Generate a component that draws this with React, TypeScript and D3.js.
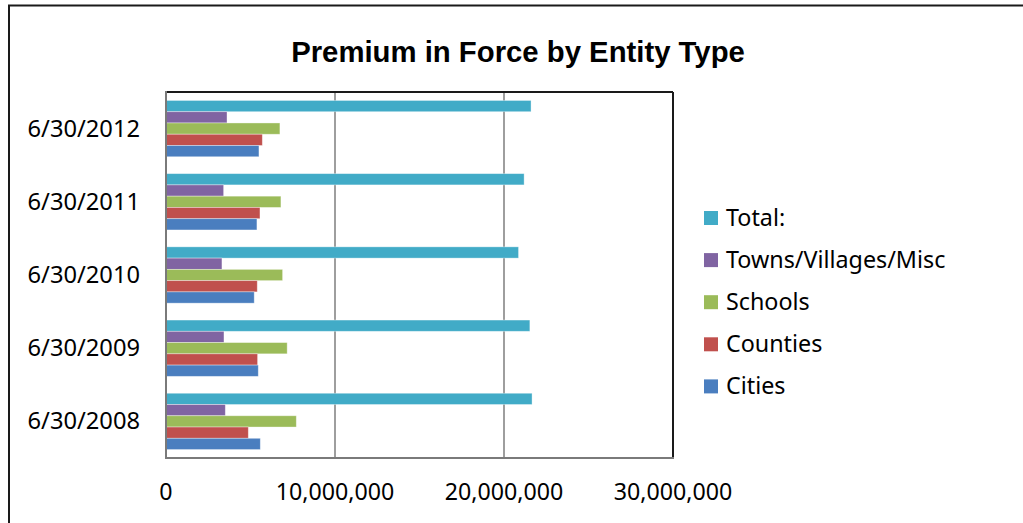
import React from "react";
import * as d3 from "d3";

// Premium in force (USD) by entity type, fiscal years ending June 30
const categories = ["6/30/2008", "6/30/2009", "6/30/2010", "6/30/2011", "6/30/2012"];
const cities = [5580000, 5460000, 5220000, 5380000, 5500000];
const counties = [4870000, 5420000, 5400000, 5560000, 5700000];
const schools = [7710000, 7170000, 6900000, 6800000, 6740000];
const towns = [3510000, 3430000, 3310000, 3410000, 3610000];
const totals = [21660000, 21530000, 20860000, 21190000, 21600000];

const xTicks = [0, 10000000, 20000000, 30000000];

const seriesNames = ["Total:", "Towns/Villages/Misc", "Schools", "Counties", "Cities"];
const seriesValues = [totals, towns, schools, counties, cities];
const seriesColors = ["#41ABC7", "#8064A2", "#9BBB59", "#C0504D", "#4A7EBF"];

const W = 1023;
const H = 523;
const plot = { left: 166, right: 673, top: 92, bottom: 458 };
const labelFont = "'Noto Sans', 'Open Sans', sans-serif";

export default function App() {
  const x = d3.scaleLinear().domain([0, 30000000]).range([plot.left, plot.right]);
  // first category at the bottom, as in a horizontal bar chart
  const y = d3
    .scaleBand<string>()
    .domain([...categories].reverse())
    .range([plot.top, plot.bottom])
    .paddingInner(0)
    .paddingOuter(0);
  const inner = d3
    .scaleBand<string>()
    .domain(seriesNames)
    .range([0, y.bandwidth()])
    .paddingInner(0)
    .paddingOuter(0.75);
  const fmt = d3.format(",");

  return (
    <svg
      width={W}
      height={H}
      style={{ position: "absolute", left: 0, top: 0, background: "#fff" }}
    >
      <rect x={0} y={0} width={W} height={H} fill="#fff" />
      {/* chart frame */}
      <rect x={9} y={5.5} width={W + 20} height={H + 20} fill="none" stroke="#1a1a1a" strokeWidth={2} />

      <text
        x={518}
        y={62}
        textAnchor="middle"
        fontFamily="'Liberation Sans', Arial, sans-serif"
        fontWeight="bold"
        fontSize={29.3}
        fill="#000"
      >
        Premium in Force by Entity Type
      </text>

      {/* gridlines */}
      {xTicks.slice(1, -1).map((t) => (
        <line
          key={"g" + t}
          x1={x(t)}
          x2={x(t)}
          y1={plot.top}
          y2={plot.bottom}
          stroke="#868686"
          strokeWidth={1.6}
        />
      ))}

      {/* bars */}
      {categories.map((c, ci) => (
        <g key={c} transform={`translate(0,${y(c)})`}>
          {seriesNames.map((s, si) => {
            const v = seriesValues[si][ci];
            return (
              <rect
                key={s}
                x={x(0)}
                y={inner(s)}
                width={x(v) - x(0)}
                height={inner.bandwidth()}
                fill={seriesColors[si]}
                stroke="#ffffff"
                strokeOpacity={0.45}
                strokeWidth={0.8}
              />
            );
          })}
        </g>
      ))}

      {/* plot area border: top/right dark, axes gray */}
      <line x1={plot.left} x2={plot.right} y1={plot.top} y2={plot.top} stroke="#1a1a1a" strokeWidth={2} />
      <line x1={plot.right} x2={plot.right} y1={plot.top} y2={plot.bottom} stroke="#1a1a1a" strokeWidth={2} />
      <line x1={plot.left} x2={plot.left} y1={plot.top - 1} y2={plot.bottom + 1} stroke="#7a7a7a" strokeWidth={2} />
      <line x1={plot.left} x2={plot.right + 1} y1={plot.bottom} y2={plot.bottom} stroke="#7a7a7a" strokeWidth={2} />

      {/* category labels */}
      {categories.map((c) => (
        <text
          key={"l" + c}
          x={140}
          y={(y(c) as number) + y.bandwidth() / 2 + 8}
          textAnchor="end"
          fontFamily={labelFont}
          fontSize={23.7}
          fill="#000"
        >
          {c}
        </text>
      ))}

      {/* value axis labels */}
      {xTicks.map((t) => (
        <text
          key={"t" + t}
          x={x(t)}
          y={500}
          textAnchor="middle"
          fontFamily={labelFont}
          fontSize={23.2}
          fill="#000"
        >
          {fmt(t)}
        </text>
      ))}

      {/* legend */}
      {seriesNames.map((s, i) => {
        const cy = 218 + i * 42.1;
        return (
          <g key={"k" + s}>
            <rect x={704} y={cy - 7} width={14} height={14} fill={seriesColors[i]} />
            <text x={726} y={cy + 7.5} fontFamily={labelFont} fontSize={23.3} fill="#000">
              {s}
            </text>
          </g>
        );
      })}
    </svg>
  );
}
